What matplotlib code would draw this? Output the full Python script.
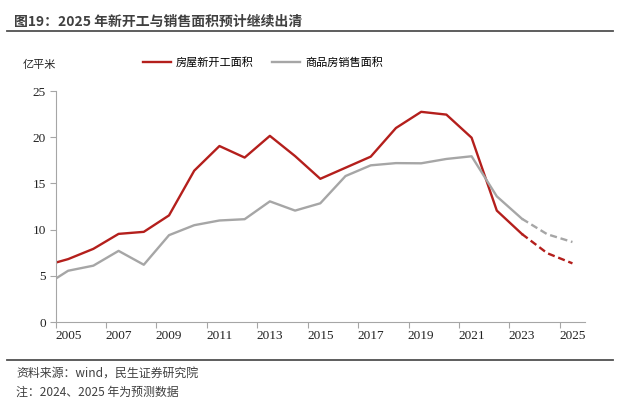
import matplotlib
matplotlib.use("Agg")
import matplotlib.pyplot as plt
from matplotlib.lines import Line2D

plt.rcParams['font.family'] = ['Noto Sans CJK SC', 'DejaVu Sans']

# 数据：亿平米（2024、2025为预测）
years = list(range(2004, 2026))
new_start = [6.04, 6.81, 7.92, 9.54, 9.76, 11.54, 16.38, 19.05, 17.8, 20.15, 17.96,
             15.5, 16.7, 17.9, 21.0, 22.75, 22.45, 19.95, 12.06, 9.52, 7.45, 6.35]
sales = [3.82, 5.55, 6.1, 7.7, 6.2, 9.4, 10.48, 10.99, 11.13, 13.06, 12.06,
         12.85, 15.8, 16.96, 17.2, 17.18, 17.65, 17.94, 13.6, 11.17, 9.5, 8.66]
label_years = list(range(2005, 2026, 2))
forecast_from = 2023

red = '#B41F1C'
gray = '#A6A6A6'

fig = plt.figure(figsize=(6.24, 4.12), dpi=100)
ax = fig.add_axes([0.089, 0.2184, 0.8486, 0.5606])

i = years.index(forecast_from)
ax.plot(years[:i + 1], new_start[:i + 1], color=red, lw=1.7, label='房屋新开工面积')
ax.plot(years[i:], new_start[i:], color=red, lw=1.7, ls=(0, (3, 1.6)))
ax.plot(years[:i + 1], sales[:i + 1], color=gray, lw=1.7, label='商品房销售面积')
ax.plot(years[i:], sales[i:], color=gray, lw=1.7, ls=(0, (3, 1.6)))

ax.set_xlim(2004.5, 2025.5)
ax.set_ylim(0, 25)
ax.set_yticks([0, 5, 10, 15, 20, 25])

# 刻度线在年份之间，标签在年份上
ax.set_xticks([y - 0.5 for y in label_years])
ax.set_xticklabels([])
ax.set_xticks(label_years, minor=True)
ax.set_xticklabels([str(y) for y in label_years], minor=True)
ax.tick_params(axis='x', which='major', length=4, color=gray, width=0.8)
ax.tick_params(axis='x', which='minor', length=0, pad=6)
ax.tick_params(axis='y', length=4, color=gray, width=0.8, pad=3)

for lab in ax.get_xticklabels(minor=True) + ax.get_yticklabels():
    lab.set_fontfamily('Liberation Serif')
    lab.set_fontsize(9.5)
    lab.set_color('#222222')

for s in ['top', 'right']:
    ax.spines[s].set_visible(False)
for s in ['left', 'bottom']:
    ax.spines[s].set_color(gray)
    ax.spines[s].set_linewidth(0.8)

fig.legend(loc='center', bbox_to_anchor=(0.421, 0.849), ncol=2, frameon=False,
           fontsize=8, handlelength=2.6, columnspacing=1.6, handletextpad=0.4)
fig.text(0.0625, 0.842, '亿平米', fontsize=8, ha='center', va='center', color='#222222')

fig.text(0.022, 0.946, '图19：2025 年新开工与销售面积预计继续出清', fontsize=10,
         fontweight='bold', color='#404040', va='center', ha='left')
fig.add_artist(Line2D([0.011, 0.982], [0.925, 0.925], color='#505050', lw=1.3))
fig.add_artist(Line2D([0.011, 0.982], [0.126, 0.126], color='#505050', lw=1.3))
fig.text(0.0256, 0.0947, '资料来源：wind，民生证券研究院', fontsize=8.6, color='#404040', va='center')
fig.text(0.0256, 0.0485, '注：2024、2025 年为预测数据', fontsize=8.6, color='#404040', va='center')

fig.savefig('out.png', dpi=100)
